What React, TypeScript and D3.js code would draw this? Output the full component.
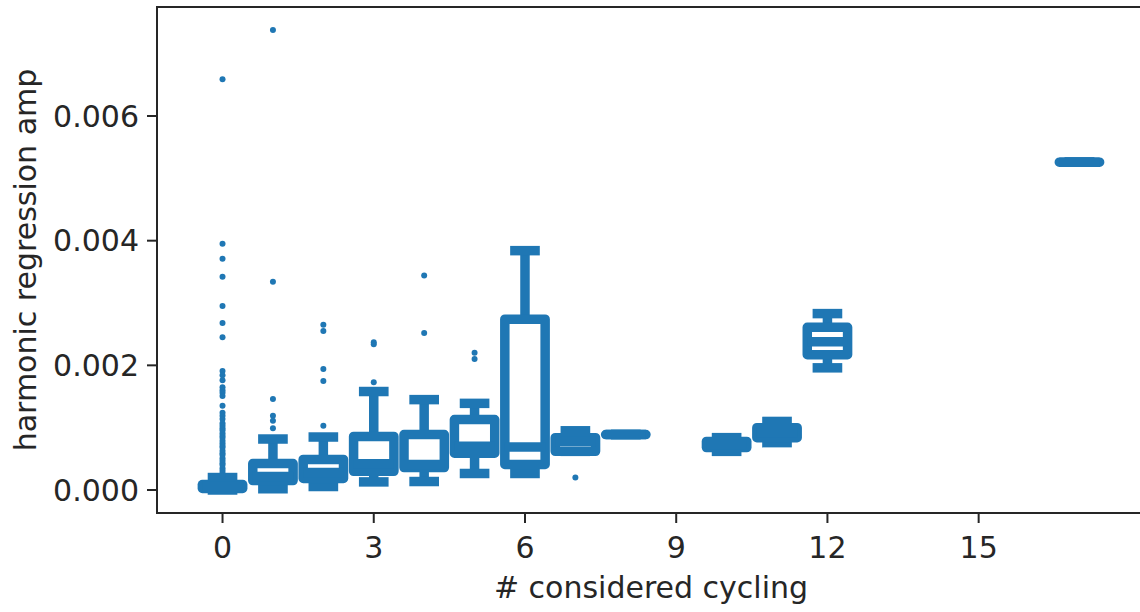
import * as d3 from "d3";

// categories on the x axis (# considered cycling)
const categories = [0, 1, 2, 3, 4, 5, 6, 7, 8, 10, 11, 12, 17];
// box statistics
const whiskerLow = [0, 0.00002, 0.000056, 0.00013, 0.000136, 0.000265, 0.000265, 0.00062, 0.00089, 0.00062, 0.00076, 0.00196, 0.00526];
const q1 = [0.000024, 0.000152, 0.000185, 0.0003, 0.00036, 0.00059, 0.00041, 0.00062, 0.00089, 0.00068, 0.00084, 0.00217, 0.00526];
const medians = [0.000056, 0.000217, 0.00028, 0.00042, 0.00041, 0.0007, 0.00069, 0.00078, 0.00089, 0.00073, 0.00092, 0.00238, 0.00526];
const q3 = [0.000088, 0.000425, 0.00049, 0.00086, 0.00089, 0.00113, 0.00274, 0.00084, 0.00089, 0.00078, 0.001, 0.00261, 0.00526];
const whiskerHigh = [0.0002, 0.000818, 0.00085, 0.00158, 0.00145, 0.00139, 0.00384, 0.00095, 0.00089, 0.00084, 0.0011, 0.00283, 0.00526];

// outliers per category (same order as categories)
const fliers: number[][] = [
  [0.00659, 0.00395, 0.00371, 0.00342, 0.00295, 0.00268, 0.00245, 0.00191, 0.00184, 0.00176, 0.00165, 0.0016, 0.00156, 0.00151,
   0.00135, 0.00124, 0.00119, 0.00114, 0.00107, 0.00103, 0.00099, 0.00096, 0.00091, 0.00087, 0.00084, 0.00079, 0.00075, 0.00071,
   0.00068, 0.00063, 0.00059, 0.00056, 0.00051, 0.00047, 0.00043, 0.0004, 0.00035, 0.00031, 0.00027, 0.00023],
  [0.00738, 0.00334, 0.00146, 0.00119, 0.00111, 0.00099],
  [0.00265, 0.00255, 0.00194, 0.00175, 0.00103],
  [0.00237, 0.00234, 0.00173],
  [0.00344, 0.00252],
  [0.0022, 0.0021],
  [],
  [0.0002],
  [],
  [],
  [],
  [],
  [],
];

const xTicks = [0, 3, 6, 9, 12, 15];
const yTicks = [0, 0.002, 0.004, 0.006];

const W = 1140;
const H = 612;
const BLUE = "#1f77b4";
const INK = "#262626";
const FONT = "DejaVu Sans";

export default function App() {
  const x = d3.scaleLinear().domain([-1.3, 18.3]).range([157, 1145]);
  const y = d3.scaleLinear().domain([-0.000369, 0.007749]).range([513, 7]);
  const half = x(0.4) - x(0);
  const capHalf = x(0.2) - x(0);
  const lw = 9.5;

  return (
    <svg width={W} height={H} style={{ position: "absolute", left: 0, top: 0, background: "#fff" }}>
      {/* boxes */}
      {categories.map((c, i) => {
        const cx = x(c);
        const boxPath = `M${cx - half},${y(q3[i])}L${cx + half},${y(q3[i])}L${cx + half},${y(q1[i])}L${cx - half},${y(q1[i])}Z`;
        return (
          <g key={c} stroke={BLUE} strokeWidth={lw} fill="none">
            <line x1={cx} x2={cx} y1={y(q3[i])} y2={y(whiskerHigh[i])} />
            <line x1={cx} x2={cx} y1={y(q1[i])} y2={y(whiskerLow[i])} />
            <line x1={cx - capHalf} x2={cx + capHalf} y1={y(whiskerHigh[i])} y2={y(whiskerHigh[i])} strokeLinecap="square" />
            <line x1={cx - capHalf} x2={cx + capHalf} y1={y(whiskerLow[i])} y2={y(whiskerLow[i])} strokeLinecap="square" />
            <path d={boxPath} strokeLinejoin="round" fill="#fff" />
            <line x1={cx - half} x2={cx + half} y1={y(medians[i])} y2={y(medians[i])} />
          </g>
        );
      })}
      {/* outliers */}
      {categories.map((c, i) =>
        fliers[i].map((v, j) => <circle key={`${c}-${j}`} cx={x(c)} cy={y(v)} r={3} fill={BLUE} />)
      )}

      {/* frame */}
      <rect x={157} y={7} width={988} height={506} fill="none" stroke={INK} strokeWidth={2} />

      {/* y axis */}
      {yTicks.map((t) => (
        <g key={t}>
          <line x1={147} x2={157} y1={y(t)} y2={y(t)} stroke={INK} strokeWidth={2} />
          <text x={139} y={y(t)} dy="0.36em" textAnchor="end" fontFamily={FONT} fontSize={30} fill={INK}>
            {t.toFixed(3)}
          </text>
        </g>
      ))}
      {/* x axis */}
      {xTicks.map((t) => (
        <g key={t}>
          <line x1={x(t)} x2={x(t)} y1={513} y2={523} stroke={INK} strokeWidth={2} />
          <text x={x(t)} y={558} textAnchor="middle" fontFamily={FONT} fontSize={30} fill={INK}>
            {t}
          </text>
        </g>
      ))}

      <text x={x(8.5)} y={598} textAnchor="middle" fontFamily={FONT} fontSize={30} fill={INK}>
        # considered cycling
      </text>
      <text transform={`translate(36,260) rotate(-90)`} textAnchor="middle" fontFamily={FONT} fontSize={30} fill={INK}>
        harmonic regression amp
      </text>
    </svg>
  );
}
